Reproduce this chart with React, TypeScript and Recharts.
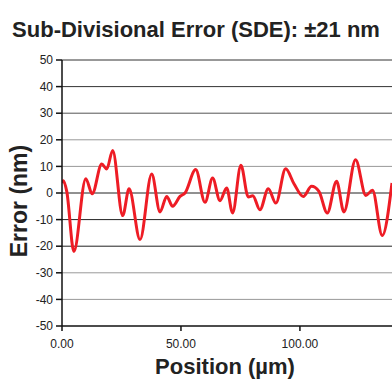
import { LineChart, Line, XAxis, YAxis, ReferenceLine } from "recharts";

// position (µm) and error (nm) at the turning points
const positions = [
  0, 0.6, 2.0, 5.0, 10.0, 12.7, 16.7, 18.8, 21.3, 25.5, 28.2, 32.8, 37.7, 41.2,
  44.0, 46.5, 49.6, 51.7, 56.2, 60.1, 63.3, 66.4, 69.2, 71.7, 75.2, 78.3, 80.2,
  83.2, 86.7, 89.9, 94.0, 97.5, 101.4, 104.9, 108.0, 111.5, 115.4, 118.5, 123.4,
  127.7, 130.5, 134.6, 138.7,
];
const errors = [
  3.8, 4.6, 0.6, -22, 5.4, -0.3, 10.9, 9.0, 16.0, -8.5, 1.6, -17.5, 7.1, -7.1,
  -1.3, -5.0, -1.3, 0, 8.8, -3.5, 5.6, -2.9, 1.9, -7.5, 10.4, -1.5, -1.0, -6.3,
  1.6, -3.8, 9.1, 3.5, -1.3, 2.5, 0.6, -7.5, 4.4, -7.1, 12.5, -0.9, 1.0, -16.0,
  3.8,
];

const xTicks = [0, 50, 100];
const yTicks = [50, 40, 30, 20, 10, 0, -10, -20, -30, -40];
const gridColors = ["#333", "#333", "#555", "#999", "#999", "#222", "#222", "#222", "#999", "#999"];

const data = positions.map((x, i) => ({ x, err: errors[i] }));

const font = "'Liberation Sans', Arial, Helvetica, sans-serif";

export default function App() {
  return (
    <div style={{ position: "absolute", left: 0, top: 0, width: 392, height: 387, background: "#fff" }}>
      <LineChart
        width={392}
        height={387}
        data={data}
        margin={{ top: 60, right: 0, bottom: 0, left: 0 }}
      >
        {yTicks.map((t, i) => (
          <ReferenceLine key={t} y={t} stroke={gridColors[i]} strokeWidth={1} />
        ))}
        <XAxis
          dataKey="x"
          type="number"
          domain={[0, 138.7]}
          ticks={xTicks}
          allowDataOverflow
          height={61}
          tickFormatter={(v: number) => v.toFixed(2)}
          tick={{ fontSize: 12, fill: "#222", fontFamily: font }}
          tickSize={5}
          tickMargin={8}
          stroke="#111"
          strokeWidth={1.5}
        />
        <YAxis
          type="number"
          domain={[-50, 50]}
          ticks={[...yTicks, -50]}
          width={62}
          tick={{ fontSize: 12, fill: "#222", fontFamily: font }}
          tickSize={6}
          tickMargin={3}
          stroke="#111"
          strokeWidth={1.5}
        />
        <Line
          type="monotone"
          dataKey="err"
          stroke="#ee1c25"
          strokeWidth={3}
          dot={false}
          isAnimationActive={false}
        />
      </LineChart>
      <svg
        width={392}
        height={387}
        style={{ position: "absolute", left: 0, top: 0, pointerEvents: "none" }}
        fontFamily={font}
        fontWeight="bold"
        fill="#222"
      >
        <text x={196} y={37} textAnchor="middle" fontSize={22}>
          Sub-Divisional Error (SDE): ±21 nm
        </text>
        <text x={225} y={374} textAnchor="middle" fontSize={22}>
          Position (µm)
        </text>
        <text x={27} y={201} textAnchor="middle" fontSize={23} transform="rotate(-90, 27, 201)">
          Error (nm)
        </text>
      </svg>
    </div>
  );
}
